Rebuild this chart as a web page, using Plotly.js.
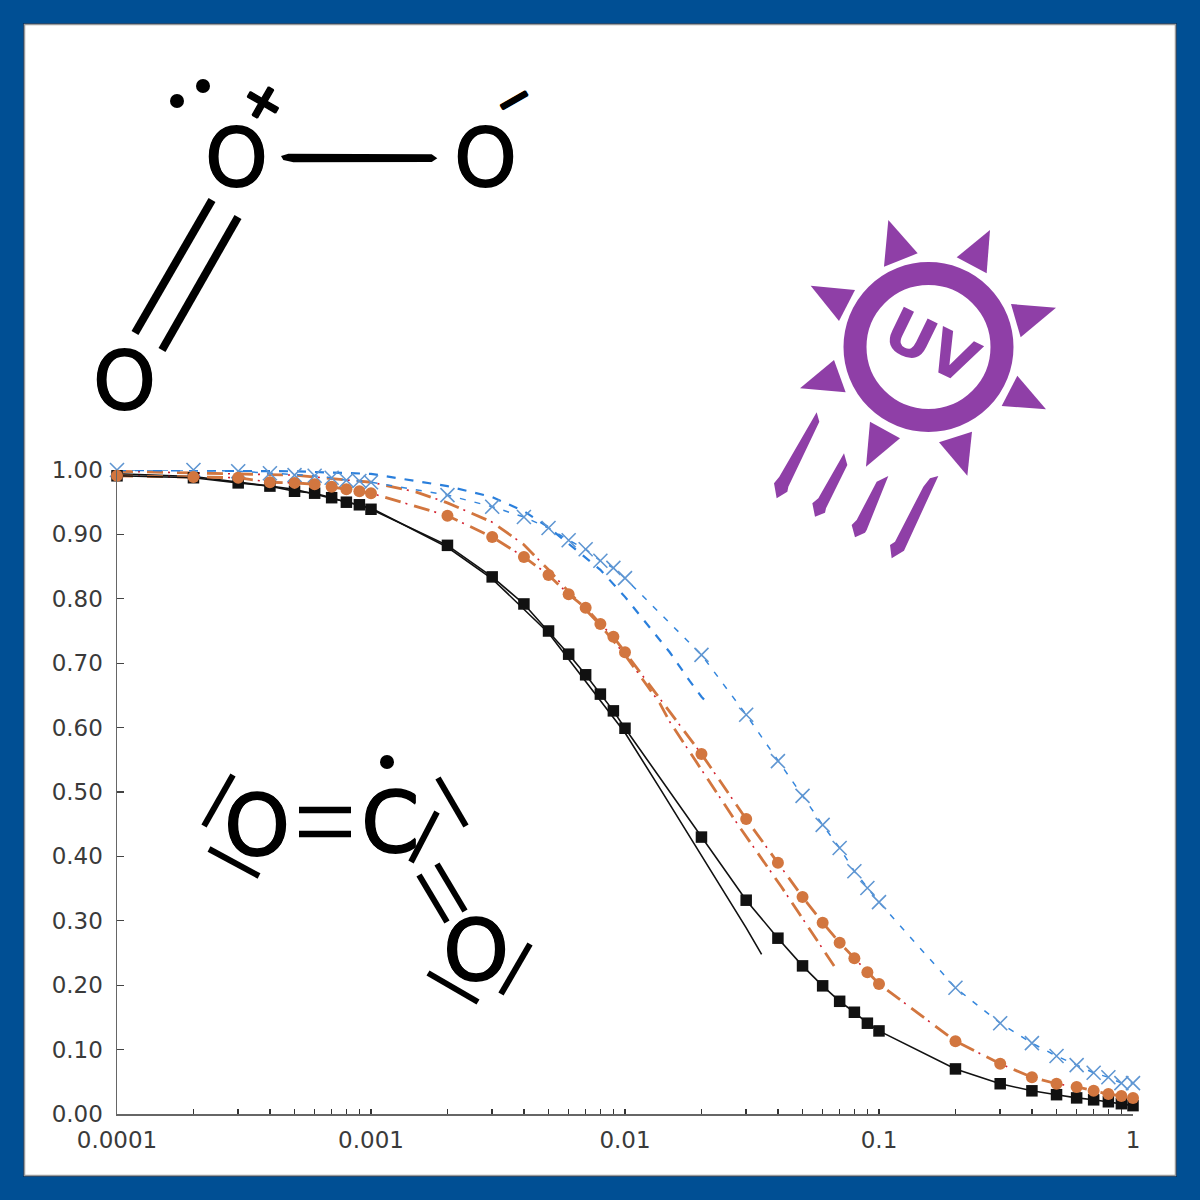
<!DOCTYPE html>
<html><head><meta charset="utf-8">
<script src="https://cdn.plot.ly/plotly-3.0.1.min.js"></script>
<style>html,body{margin:0;padding:0;background:#004f94}#c{width:1200px;height:1200px}</style>
</head><body><div id="c"></div>
<script>
// ---- measured concentration grid ----
const doses = [0.0001,0.0002,0.0003,0.0004,0.0005,0.0006,0.0007,0.0008,0.0009,0.001,
  0.002,0.003,0.004,0.005,0.006,0.007,0.008,0.009,0.01,
  0.02,0.03,0.04,0.05,0.06,0.07,0.08,0.09,0.1,
  0.2,0.3,0.4,0.5,0.6,0.7,0.8,0.9,1];
const blackValues = [0.991,0.988,0.980,0.975,0.967,0.964,0.957,0.950,0.946,0.939,
  0.883,0.834,0.792,0.750,0.714,0.682,0.652,0.626,0.599,
  0.430,0.332,0.273,0.230,0.199,0.175,0.158,0.141,0.129,
  0.070,0.047,0.036,0.030,0.025,0.022,0.019,0.016,0.013];
const orangeValues = [0.991,0.989,0.988,0.981,0.980,0.978,0.974,0.970,0.967,0.964,
  0.929,0.896,0.865,0.837,0.807,0.786,0.761,0.741,0.717,
  0.559,0.458,0.390,0.337,0.297,0.266,0.242,0.220,0.202,
  0.113,0.078,0.057,0.047,0.042,0.036,0.031,0.028,0.025];
const blueValues = [1.000,1.000,0.998,0.995,0.992,0.991,0.988,0.984,0.983,0.981,
  0.961,0.943,0.927,0.910,0.891,0.877,0.859,0.848,0.832,
  0.713,0.620,0.548,0.494,0.449,0.413,0.377,0.351,0.329,
  0.196,0.141,0.110,0.090,0.076,0.064,0.057,0.048,0.048];
// ---- fitted model curves ----
const blackFitX = [0.0001,0.0002,0.0005,0.001,0.002,0.003,0.005,0.01,0.0137,0.02,0.03,0.0345];
const blackFitY = [0.994,0.990,0.970,0.941,0.880,0.831,0.747,0.592,0.506,0.402,0.289,0.248];
const orangeFitX = [0.0001,0.0005,0.001,0.0015,0.002,0.003,0.004,0.005,0.006,0.007,0.008,0.01,0.0137,0.015,0.02,0.0282,0.0414,0.0585,0.0673];
const orangeFitY = [0.998,0.992,0.981,0.966,0.949,0.919,0.884,0.845,0.811,0.784,0.759,0.713,0.638,0.609,0.534,0.446,0.352,0.262,0.227];
const blueFitX = [0.0001,0.0005,0.001,0.002,0.003,0.004,0.005,0.006,0.007,0.008,0.01,0.012,0.015,0.018,0.02,0.0215];
const blueFitY = [1.000,0.998,0.994,0.975,0.958,0.936,0.911,0.885,0.863,0.845,0.803,0.764,0.717,0.672,0.648,0.634];
// ---- axis ticks ----
const yTicks = [0,0.1,0.2,0.3,0.4,0.5,0.6,0.7,0.8,0.9,1];
const xDecadeLabels = {0.0001:'0.0001',0.001:'0.001',0.01:'0.01',0.1:'0.1',1:'1'};
const xTicks = doses;
const xTickText = xTicks.map(v => xDecadeLabels[v] || '');

// ---- page geometry, only used for the decoration drawn around the chart ----
const L=117,R=1133,T=470,B=1114;
const px = x => (x-L)/(R-L);
const py = y => (B-y)/(B-T);
const INK='#000000', PURPLE='#8f3fa7';
const THICK='0.7px 0 0 #000,-0.7px 0 0 #000,0 0.7px 0 #000,0 -0.7px 0 #000';

function poly(ox,oy,pts,color){
  const d = pts.map((p,i)=>(i?'L':'M')+px(ox+p[0]/3)+','+py(oy+p[1]/3)).join(' ')+' Z';
  return {type:'path',xref:'paper',yref:'paper',path:d,fillcolor:color,line:{width:0},layer:'above'};
}
function seg(x0,y0,x1,y1,w,color){
  return {type:'line',xref:'paper',yref:'paper',x0:px(x0),y0:py(y0),x1:px(x1),y1:py(y1),line:{color:color||INK,width:w},layer:'above'};
}
function dot(cx,cy,r,color){
  return {type:'circle',xref:'paper',yref:'paper',x0:px(cx-r),x1:px(cx+r),y0:py(cy+r),y1:py(cy-r),fillcolor:color||INK,line:{width:0},layer:'above'};
}
function label(text,x,y,size,opts){
  opts=opts||{};
  return {text:text,xref:'paper',yref:'paper',x:px(x),y:py(y),xanchor:'center',yanchor:'middle',showarrow:false,
    font:Object.assign({family:'DejaVu Sans',size:size,color:INK,shadow:THICK},opts.font||{}),textangle:opts.angle||0};
}

const sunTriangles = [
 [[385,30],[473,130],[372,170]],[[690,60],[680,190],[590,142]],[[888,293],[782,382],[753,282]],
 [[772,497],[858,598],[725,588]],[[636,665],[622,797],[537,697]],[[330,635],[420,685],[318,770]],
 [[222,450],[257,547],[120,535]],[[152,227],[285,240],[237,333]]];
const sunRays = [
 [[170,607],[178,635],[85,830],[82,845],[50,865],[42,820],[58,800]],
 [[252,730],[262,765],[198,895],[195,908],[165,920],[157,880],[175,865]],
 [[385,798],[320,960],[315,968],[285,982],[275,945],[290,930],[350,815]],
 [[535,798],[432,1022],[395,1045],[390,1005],[405,995],[490,830],[510,805]]];

const shapes = [
 {type:'rect',xref:'paper',yref:'paper',x0:px(23),x1:px(1177),y0:py(1177),y1:py(23),fillcolor:'#002f60',line:{width:0},layer:'below'},
 {type:'rect',xref:'paper',yref:'paper',x0:px(24.5),x1:px(1175.5),y0:py(1175.5),y1:py(24.5),fillcolor:'#ffffff',line:{color:'#9a9a9a',width:1.5},layer:'below'},
 // ozone
 poly(80,60,[[603,288],[625,281],[1055,283],[1072,295],[1055,306],[640,307],[610,300]],INK),
 seg(212,200,135,333,8), seg(238,217,162,350,8),
 dot(177,101,7), dot(203,86,7),
 // carbonate radical
 seg(299,810,351,810,6.5), seg(299,834,351,834,6.5),
 seg(233,775,204,826,6), seg(209,849,259,876,6),
 seg(438,778,466,826,6),
 seg(437,812,411,862,6),
 seg(419,875,447,922,6), seg(437,864,465,911,6),
 seg(428,973,478,1002,6), seg(530,944,501,994,6),
 dot(387,762,7),
 // sun
 {type:'circle',xref:'paper',yref:'paper',x0:px(928.5-73.5),x1:px(928.5+73.5),y0:py(347+73.5),y1:py(347-73.5),
  line:{color:PURPLE,width:23},layer:'above'}
].concat(sunTriangles.map(t=>poly(760,210,t,PURPLE)), sunRays.map(t=>poly(760,210,t,PURPLE)));

const annotations = [
 label('O',236,158,80), label('O',485,158,80), label('O',124,381,80),
 label('+',264,101,52,{angle:30,font:{weight:700,size:52}}),
 label('\u2212',513,99,46,{angle:-30,font:{weight:700,size:46}}),
 label('O',257,826,84), label('C',390,823,84), label('O',476,951,84),
 label('UV',932,346,60,{angle:26,font:{size:60,color:PURPLE,weight:700,shadow:'none'}})
];

const traces = [
 {x:blackFitX,y:blackFitY,mode:'lines',line:{color:'#111',width:1.6},cliponaxis:false,hoverinfo:'skip'},
 {x:orangeFitX,y:orangeFitY,mode:'lines',line:{color:'#d2763f',width:2.8,dash:'16px,14px'},cliponaxis:false,hoverinfo:'skip'},
 {x:orangeFitX,y:orangeFitY,mode:'lines',line:{color:'#d3202e',width:1.6,dash:'0px,21px,2px,7px'},cliponaxis:false,hoverinfo:'skip'},
 {x:blueFitX,y:blueFitY,mode:'lines',line:{color:'#2a7fdc',width:2.2,dash:'9px,9px'},cliponaxis:false,hoverinfo:'skip'},
 {x:doses,y:blueValues,mode:'lines+markers',line:{color:'#3486dd',width:1.5,dash:'6px,9px'},
  marker:{symbol:'x-thin',size:14,line:{color:'#5f96d2',width:1.6}},cliponaxis:false,hoverinfo:'skip'},
 {x:doses,y:orangeValues,mode:'lines',line:{color:'#d2763f',width:2.8,dash:'16px,14px'},cliponaxis:false,hoverinfo:'skip'},
 {x:doses,y:orangeValues,mode:'lines',line:{color:'#d3202e',width:1.6,dash:'0px,21px,2px,7px'},cliponaxis:false,hoverinfo:'skip'},
 {x:doses,y:blackValues,mode:'lines+markers',line:{color:'#111',width:1.6},
  marker:{symbol:'square',size:11.5,color:'#111'},cliponaxis:false,hoverinfo:'skip'},
 {x:doses,y:orangeValues,mode:'markers',marker:{symbol:'circle',size:12,color:'#d2763f'},cliponaxis:false,hoverinfo:'skip'}
];

const layout = {
 width:1200,height:1200,showlegend:false,
 margin:{l:L,r:1200-R,t:T,b:1200-B,pad:0},
 paper_bgcolor:'#004f94',plot_bgcolor:'rgba(0,0,0,0)',
 font:{family:'DejaVu Sans',size:23,color:'#3a3a3a'},
 xaxis:{type:'log',range:[-4,0],tickmode:'array',tickvals:xTicks,ticktext:xTickText,ticks:'inside',ticklen:5,tickwidth:1.5,tickcolor:'#333',
   showline:true,linecolor:'#666',linewidth:1.5,showgrid:false,zeroline:false,ticklabelstandoff:5,tickangle:0,tickfont:{family:'DejaVu Sans',size:23,color:'#3a3a3a'}},
 yaxis:{range:[0,1],tickmode:'array',tickvals:yTicks,tickformat:'.2f',ticks:'inside',ticklen:7,tickwidth:1.2,tickcolor:'#444',
   showline:true,linecolor:'#666',linewidth:1.5,showgrid:false,zeroline:false,ticklabelstandoff:8,tickfont:{family:'DejaVu Sans',size:23,color:'#3a3a3a'}},
 shapes:shapes,annotations:annotations
};
Plotly.newPlot('c',traces,layout,{staticPlot:true,displayModeBar:false});
</script></body></html>
